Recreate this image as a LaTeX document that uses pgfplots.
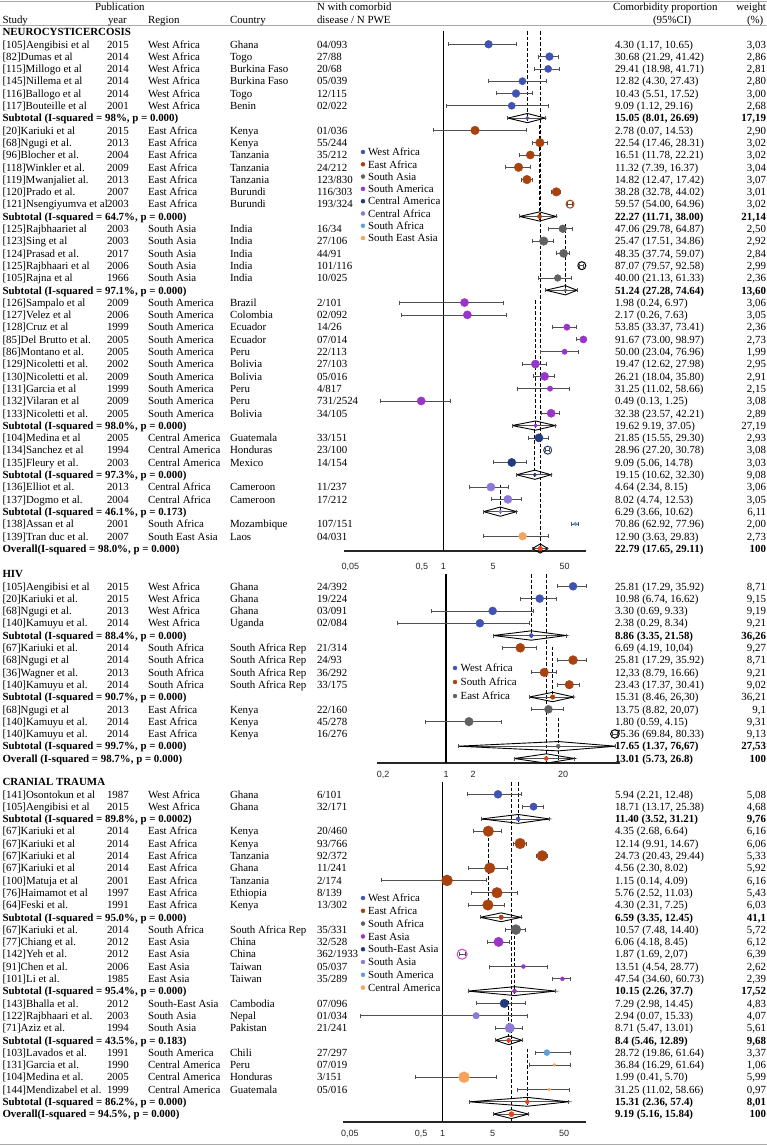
\documentclass[border=0pt]{standalone}
\usepackage{pgfplots}
\pgfplotsset{compat=1.18}
\usepackage{fontspec}
\setmainfont{Liberation Serif}
\newfontfamily\ticksf{Liberation Sans}

\definecolor{cWA}{RGB}{65,82,181}
\definecolor{cEA}{RGB}{168,67,15}
\definecolor{cGR}{RGB}{98,98,98}
\definecolor{cPU}{RGB}{154,53,201}
\definecolor{cNV}{RGB}{35,58,128}
\definecolor{cLV}{RGB}{142,121,216}
\definecolor{cLB}{RGB}{95,160,218}
\definecolor{cOR}{RGB}{246,163,94}
\definecolor{cRD}{RGB}{232,66,27}
\definecolor{cMG}{RGB}{208,67,200}
\definecolor{ciC}{RGB}{80,80,80}
\definecolor{hdr}{RGB}{170,170,170}

\newcommand\PC[3]{\addplot[ciC, line width=0.7pt, mark=|, mark size=2pt, mark options={solid}, forget plot] coordinates {(#2,-#1) (#3,-#1)};}
\newcommand\PD[4]{\addplot[only marks, mark=*, mark size=#3pt, color=#4, forget plot] coordinates {(#2,-#1)};}
% y lo p hi r colour
\newcommand\PR[6]{\PC{#1}{#2}{#4}\PD{#1}{#3}{#5}{#6}}
\newcommand\PO[6]{\PC{#1}{#2}{#4}\addplot[only marks, mark=o, mark size=#5pt, color=#6, line width=1pt, forget plot] coordinates {(#3,-#1)};}
\newcommand\PS[6]{\PC{#1}{#2}{#4}%
  \pgfmathsetmacro\dya{-#1+\dh}\pgfmathsetmacro\dyb{-#1-\dh}%
  \edef\tmpdia{\noexpand\addplot[black, line width=0.9pt, mark=none, forget plot] coordinates {(#2,-#1) (#3,\dya) (#4,-#1) (#3,\dyb) (#2,-#1)};}\tmpdia
  \PD{#1}{#3}{#5}{#6}}
\newcommand\VD[3]{\addplot[black, line width=1.1pt, dash pattern=on 3.5pt off 2pt, mark=none, forget plot] coordinates {(#1,#2) (#1,#3)};}
\newcommand\VO[2]{\addplot[black, line width=1.2pt, mark=none, forget plot] coordinates {(1,#1) (1,#2)};}
\newcommand\LB[3]{\addplot[only marks, mark=*, mark size=2pt, color=#3, forget plot] coordinates {(#1,#2)};}

\newcommand\fs{\fontsize{10.9}{12}\selectfont}
\def\base{32}
\newcommand\TR[8]{\pgfmathsetmacro\rowy{-(\base+12.3*(#1))-3.7}%
 \node[anchor=base west] at (2.5pt,\rowy pt) {#2};%
 \node[anchor=base west] at (107pt,\rowy pt) {#3};%
 \node[anchor=base west] at (148pt,\rowy pt) {#4};%
 \node[anchor=base west] at (230pt,\rowy pt) {#5};%
 \node[anchor=base west] at (317pt,\rowy pt) {#6};%
 \node[anchor=base west] at (615pt,\rowy pt) {#7};%
 \node[anchor=base east] at (766pt,\rowy pt) {#8};}
\newcommand\TB[4]{\TR{#1}{\textbf{#2}}{}{}{}{}{#3}{#4}}
\newcommand\LG[3]{\pgfmathsetmacro\rowy{-(#2)-3.7}\node[anchor=base west] at (#1pt,\rowy pt) {#3};}

\begin{document}
\begin{tikzpicture}[font=\fs]
\useasboundingbox (0pt,0pt) rectangle (767pt,-1146pt);
\begin{scope}[every node/.style={inner sep=0pt, outer sep=0pt}]
\draw[hdr, line width=1pt] (0pt,-1pt) -- (767pt,-1pt);
\draw[hdr, line width=0.8pt] (0pt,-25.5pt) -- (767pt,-25.5pt);
\draw[hdr, line width=1.6pt] (0pt,-1144.5pt) -- (767pt,-1144.5pt);
\node[anchor=base west] at (95pt,-10.6pt) {Publication};
\node[anchor=base west] at (2.5pt,-23.1pt) {Study};
\node[anchor=base west] at (108pt,-23.1pt) {year};
\node[anchor=base west] at (148pt,-23.1pt) {Region};
\node[anchor=base west] at (230pt,-23.1pt) {Country};
\node[anchor=base west] at (317pt,-10.6pt) {N with comorbid};
\node[anchor=base west] at (317pt,-23.1pt) {disease / N PWE};
\node[anchor=base west] at (613pt,-10.6pt) {Comorbidity proportion};
\node[anchor=base west] at (653pt,-23.1pt) {(95\%CI)};
\node[anchor=base east] at (766pt,-10.6pt) {weight};
\node[anchor=base west] at (747pt,-23.1pt) {(\%)};

\def\base{32}
\TR{0}{\textbf{NEUROCYSTICERCOSIS}}{}{}{}{}{}{}
\TR{1}{[105]Aengibisi et al}{2015}{West Africa}{Ghana}{04/093}{4.30 (1.17, 10.65)}{3,03}
\TR{2}{[82]Dumas et al}{2014}{West Africa}{Togo}{27/88}{30.68 (21.29, 41.42)}{2,86}
\TR{3}{[115]Millogo et al}{2014}{West Africa}{Burkina Faso}{20/68}{29.41 (18.98, 41.71)}{2,81}
\TR{4}{[145]Nillema et al}{2014}{West Africa}{Burkina Faso}{05/039}{12.82 (4.30, 27.43)}{2,80}
\TR{5}{[116]Ballogo et al}{2014}{West Africa}{Togo}{12/115}{10.43 (5.51, 17.52)}{3,00}
\TR{6}{[117]Bouteille et al}{2001}{West Africa}{Benin}{02/022}{9.09 (1.12, 29.16)}{2,68}
\TB{7}{Subtotal (I-squared = 98\%, p = 0.000)}{\textbf{15.05 (8.01, 26.69)}}{\textbf{17,19}}
\TR{8}{[20]Kariuki et al}{2015}{East Africa}{Kenya}{01/036}{2.78 (0.07, 14.53)}{2,90}
\TR{9}{[68]Ngugi et al.}{2013}{East Africa}{Kenya}{55/244}{22.54 (17.46, 28.31)}{3,02}
\TR{10}{[96]Blocher et al.}{2004}{East Africa}{Tanzania}{35/212}{16.51 (11.78, 22.21)}{3,02}
\TR{11}{[118]Winkler et al.}{2009}{East Africa}{Tanzania}{24/212}{11.32 (7.39, 16.37)}{3,04}
\TR{12}{[119]Mwanjaliet al.}{2013}{East Africa}{Tanzania}{123/830}{14.82 (12.47, 17.42)}{3,07}
\TR{13}{[120]Prado et al.}{2007}{East Africa}{Burundi}{116/303}{38.28 (32.78, 44.02)}{3,01}
\TR{14}{[121]Nsengiyumva et al}{2003}{East Africa}{Burundi}{193/324}{59.57 (54.00, 64.96)}{3,02}
\TB{15}{Subtotal (I-squared = 64.7\%, p = 0.000)}{\textbf{22.27 (11.71, 38.00)}}{\textbf{21,14}}
\TR{16}{[125]Rajbhaariet al}{2003}{South Asia}{India}{16/34}{47.06 (29.78, 64.87)}{2,50}
\TR{17}{[123]Sing et al}{2003}{South Asia}{India}{27/106}{25.47 (17.51, 34.86)}{2,92}
\TR{18}{[124]Prasad et al.}{2017}{South Asia}{India}{44/91}{48.35 (37.74, 59.07)}{2,84}
\TR{19}{[125]Rajbhaari et al}{2006}{South Asia}{India}{101/116}{87.07 (79.57, 92.58)}{2,99}
\TR{20}{[105]Rajna et al}{1966}{South Asia}{India}{10/025}{40.00 (21.13, 61.33)}{2,36}
\TB{21}{Subtotal (I-squared = 97.1\%, p = 0.000)}{\textbf{51.24 (27.28, 74.64)}}{\textbf{13,60}}
\TR{22}{[126]Sampalo et al}{2009}{South America}{Brazil}{2/101}{1.98 (0.24, 6.97)}{3,06}
\TR{23}{[127]Velez et al}{2006}{South America}{Colombia}{02/092}{2.17 (0.26, 7.63)}{3,05}
\TR{24}{[128]Cruz et al}{1999}{South America}{Ecuador}{14/26}{53.85 (33.37, 73.41)}{2,36}
\TR{25}{[85]Del Brutto et al.}{2005}{South America}{Ecuador}{07/014}{91.67 (73.00, 98.97)}{2,73}
\TR{26}{[86]Montano et al.}{2005}{South America}{Peru}{22/113}{50.00 (23.04, 76.96)}{1,99}
\TR{27}{[129]Nicoletti et al.}{2002}{South America}{Bolivia}{27/103}{19.47 (12.62, 27.98)}{2,95}
\TR{28}{[130]Nicoletti et al.}{2009}{South America}{Bolivia}{05/016}{26.21 (18.04, 35.80)}{2,91}
\TR{29}{[131]Garcia et al}{1999}{South America}{Peru}{4/817}{31.25 (11.02, 58.66)}{2,15}
\TR{30}{[132]Vilaran et al}{2009}{South America}{Peru}{731/2524}{0.49 (0.13, 1.25)}{3,08}
\TR{31}{[133]Nicoletti et al.}{2005}{South America}{Bolivia}{34/105}{32.38 (23.57, 42.21)}{2,89}
\TB{32}{Subtotal (I-squared = 98.0\%, p = 0.000)}{19.62 9.19, 37.05)}{27,19}
\TR{33}{[104]Medina et al}{2005}{Central America}{Guatemala}{33/151}{21.85 (15.55, 29.30)}{2,93}
\TR{34}{[134]Sanchez et al}{1994}{Central America}{Honduras}{23/100}{28.96 (27.20, 30.78)}{3,08}
\TR{35}{[135]Fleury et al.}{2003}{Central America}{Mexico}{14/154}{9.09 (5.06, 14.78)}{3,03}
\TB{36}{Subtotal (I-squared = 97.3\%, p = 0.000)}{19.15 (10.62, 32.30)}{9,08}
\TR{37}{[136]Elliot et al.}{2013}{Central Africa}{Cameroon}{11/237}{4.64 (2.34, 8.15)}{3,06}
\TR{38}{[137]Dogmo et al.}{2004}{Central Africa}{Cameroon}{17/212}{8.02 (4.74, 12.53)}{3,05}
\TB{39}{Subtotal (I-squared = 46.1\%, p = 0.173)}{6.29 (3.66, 10.62)}{6,11}
\TR{40}{[138]Assan et al}{2001}{South Africa}{Mozambique}{107/151}{70.86 (62.92, 77.96)}{2,00}
\TR{41}{[139]Tran duc et al.}{2007}{South East Asia}{Laos}{04/031}{12.90 (3.63, 29.83)}{2,73}
\TB{42}{Overall(I-squared = 98.0\%, p = 0.000)}{\textbf{22.79 (17.65, 29.11)}}{\textbf{100}}

\def\base{574}
\TR{0}{\textbf{HIV}}{}{}{}{}{}{}
\TR{1}{[105]Aengibisi et al}{2015}{West Africa}{Ghana}{24/392}{25.81 (17.29, 35.92)}{8,71}
\TR{2}{[20]Kariuki et al.}{2015}{West Africa}{Ghana}{19/224}{10.98 (6.74, 16.62)}{9,15}
\TR{3}{[68]Ngugi et al.}{2013}{West Africa}{Ghana}{03/091}{3.30 (0.69, 9.33)}{9,19}
\TR{4}{[140]Kamuyu et al.}{2014}{West Africa}{Uganda}{02/084}{2.38 (0.29, 8.34)}{9,21}
\TB{5}{Subtotal (I-squared = 88.4\%, p = 0.000)}{\textbf{8.86 (3.35, 21.58)}}{\textbf{36,26}}
\TR{6}{[67]Kariuki et al.}{2014}{South Africa}{South Africa Rep}{21/314}{6.69 (4.19, 10,04)}{9,27}
\TR{7}{[68]Ngugi et al}{2014}{South Africa}{South Africa Rep}{24/93}{25.81 (17.29, 35.92)}{8,71}
\TR{8}{[36]Wagner et al.}{2013}{South Africa}{South Africa Rep}{36/292}{12,33 (8.79, 16.66)}{9,21}
\TR{9}{[140]Kamuyu et al.}{2014}{South Africa}{South Africa Rep}{33/175}{23.43 (17.37, 30.41)}{9,02}
\TB{10}{Subtotal (I-squared = 90.7\%, p = 0.000)}{15.31 (8.46, 26,30)}{36,21}
\TR{11}{[68]Ngugi et al}{2013}{East Africa}{Kenya}{22/160}{13.75 (8.82, 20,07)}{9,1}
\TR{12}{[140]Kamuyu et al.}{2014}{East Africa}{Kenya}{45/278}{1.80 (0.59, 4.15)}{9,31}
\TR{13}{[140]Kamuyu et al.}{2014}{East Africa}{Kenya}{16/276}{75.36 (69.84, 80.33)}{9,13}
\TB{14}{Subtotal (I-squared = 99.7\%, p = 0.000)}{\textbf{17.65 (1.37, 76,67)}}{\textbf{27,53}}
\TB{15}{Overall (I-squared = 98.7\%, p = 0.000)}{\textbf{13.01 (5.73, 26.8)}}{\textbf{100}}

\def\base{782}
\TR{0}{\textbf{CRANIAL TRAUMA}}{}{}{}{}{}{}
\TR{1}{[141]Osontokun et al}{1987}{West Africa}{Ghana}{6/101}{5.94 (2.21, 12.48)}{5,08}
\TR{2}{[105]Aengibisi et al}{2015}{West Africa}{Ghana}{32/171}{18.71 (13.17, 25.38)}{4,68}
\TB{3}{Subtotal (I-squared = 89.8\%, p = 0.0002)}{\textbf{11.40 (3.52, 31.21)}}{\textbf{9,76}}
\TR{4}{[67]Kariuki et al}{2014}{East Africa}{Kenya}{20/460}{4.35 (2.68, 6.64)}{6,16}
\TR{5}{[67]Kariuki et al}{2014}{East Africa}{Kenya}{93/766}{12.14 (9.91, 14.67)}{6,06}
\TR{6}{[67]Kariuki et al}{2014}{East Africa}{Tanzania}{92/372}{24.73 (20.43, 29.44)}{5,33}
\TR{7}{[67]Kariuki et al}{2014}{East Africa}{Ghana}{11/241}{4.56 (2.30, 8.02)}{5,92}
\TR{8}{[100]Matuja et al}{2001}{East Africa}{Tanzania}{2/174}{1.15 (0.14, 4.09)}{6,16}
\TR{9}{[76]Haimamot et al}{1997}{East Africa}{Ethiopia}{8/139}{5.76 (2.52, 11.03)}{5,43}
\TR{10}{[64]Feski et al.}{1991}{East Africa}{Kenya}{13/302}{4.30 (2.31, 7.25)}{6,03}
\TB{11}{Subtotal (I-squared = 95.0\%, p = 0.000)}{\textbf{6.59 (3.35, 12.45)}}{\textbf{41,1}}
\TR{12}{[67]Kariuki et al.}{2014}{South Africa}{South Africa Rep}{35/331}{10.57 (7.48, 14.40)}{5,72}
\TR{13}{[77]Chiang et al.}{2012}{East Asia}{China}{32/528}{6.06 (4.18, 8.45)}{6,12}
\TR{14}{[142]Yeh et al.}{2012}{East Asia}{China}{362/1933}{1.87 (1.69, 2,07)}{6,39}
\TR{15}{[91]Chen et al.}{2006}{East Asia}{Taiwan}{05/037}{13.51 (4.54, 28.77)}{2,62}
\TR{16}{[101]Li et al.}{1985}{East Asia}{Taiwan}{35/289}{47.54 (34.60, 60.73)}{2,39}
\TB{17}{Subtotal (I-squared = 95.4\%, p = 0.000)}{\textbf{10.15 (2.26, 37.7)}}{\textbf{17,52}}
\TR{18}{[143]Bhalla et al.}{2012}{South-East Asia}{Cambodia}{07/096}{7.29 (2.98, 14.45)}{4,83}
\TR{19}{[122]Rajbhaari et al.}{2003}{South Asia}{Nepal}{01/034}{2.94 (0.07, 15.33)}{4,07}
\TR{20}{[71]Aziz et al.}{1994}{South Asia}{Pakistan}{21/241}{8.71 (5.47, 13.01)}{5,61}
\TB{21}{Subtotal (I-squared = 43.5\%, p = 0.183)}{\textbf{8.4 (5.46, 12.89)}}{\textbf{9,68}}
\TR{22}{[103]Lavados et al.}{1991}{South America}{Chili}{27/297}{28.72 (19.86, 61.64)}{3,37}
\TR{23}{[131]Garcia et al.}{1990}{Central America}{Peru}{07/019}{36.84 (16.29, 61.64)}{1,06}
\TR{24}{[104]Medina et al.}{2005}{Central America}{Honduras}{3/151}{1.99 (0.41, 5.70)}{5,99}
\TR{25}{[144]Mendizabel et al.}{1999}{Central America}{Guatemala}{05/016}{31.25 (11.02, 58.66)}{0,97}
\TB{26}{Subtotal (I-squared = 86.2\%, p = 0.000)}{\textbf{15.31 (2.36, 57.4)}}{\textbf{8,01}}
\TB{27}{Overall(I-squared = 94.5\%, p = 0.000)}{\textbf{9.19 (5.16, 15.84)}}{\textbf{100}}

% legend labels
\LG{368}{152}{West Africa}
\LG{368}{164.3}{East Africa}
\LG{368}{176.6}{South Asia}
\LG{368}{188.9}{South America}
\LG{368}{201.2}{Central America}
\LG{368}{213.5}{Central Africa}
\LG{368}{225.8}{South Africa}
\LG{368}{238.1}{South East Asia}
\LG{460.7}{668}{West Africa}
\LG{460.7}{682}{South Africa}
\LG{460.7}{696}{East Africa}
\LG{368}{898}{West Africa}
\LG{368}{910.8}{East Africa}
\LG{368}{923.6}{South Africa}
\LG{368}{936.4}{East Asia}
\LG{368}{949.2}{South-East Asia}
\LG{368}{962}{South Asia}
\LG{368}{974.8}{South America}
\LG{368}{987.6}{Central America}
\end{scope}

% ===== PANEL 1 =====
\def\dh{0.374}
\begin{axis}[scale only axis, xmode=log, log basis x=10,
  axis y line=none, axis x line*=bottom, ytick=\empty,
  x axis line style={-, line width=1.2pt, black!85},
  major tick length=0pt, minor tick length=0pt, xminorticks=false, clip=false,
  at={(343.5pt,-551pt)}, anchor=south west,
  width=242.61pt, height=520pt, xmin=0.04, xmax=100, ymin=-42.2, ymax=0.08,
  xtick={0.05,0.5,1,5,50}, xticklabels={{0,05},{0,5},1,5,50},
  xticklabel style={font=\ticksf\fontsize{9}{10}\selectfont, text=black!85, inner sep=0pt, yshift=-11.8pt}]
\VO{0.08}{-42.2}
\VD{22.79}{0.08}{-42.2}
\VD{15.05}{0.08}{-7.2}
\VD{22.27}{-7.6}{-15.3}
\VD{51.24}{-15.6}{-21.2}
\VD{19.62}{-21.8}{-32.1}
\VD{19.15}{-32.3}{-36.2}
\VD{6.29}{-36.8}{-39.2}
\PR{1}{1.17}{4.30}{10.65}{3.9}{cWA}
\PR{2}{21.29}{30.68}{41.42}{3.9}{cWA}
\PR{3}{18.98}{29.41}{41.71}{3.6}{cWA}
\PR{4}{4.30}{12.82}{27.43}{3.6}{cWA}
\PR{5}{5.51}{10.43}{17.52}{3.9}{cWA}
\PR{6}{1.12}{9.09}{29.16}{3.6}{cWA}
\PS{7}{8.01}{15.05}{26.69}{1.8}{cWA}
\PR{8}{0.72}{2.78}{14.53}{4.3}{cEA}
\PR{9}{17.46}{22.54}{28.31}{4.3}{cEA}
\PR{10}{11.78}{16.51}{22.21}{4.1}{cEA}
\PR{11}{7.39}{11.32}{16.37}{4.3}{cEA}
\PR{12}{12.47}{14.82}{17.42}{4.3}{cEA}
\PR{13}{32.78}{38.28}{44.02}{4.3}{cEA}
\PO{14}{54.00}{59.57}{64.96}{4.0}{cEA}
\PS{15}{11.71}{22.27}{38.00}{2.1}{cEA}
\PR{16}{29.78}{47.06}{64.87}{3.9}{cGR}
\PR{17}{17.51}{25.47}{34.86}{4.3}{cGR}
\PR{18}{37.74}{48.35}{59.07}{4.1}{cGR}
\PO{19}{79.57}{87.07}{92.58}{4.0}{black}
\PR{20}{21.13}{40.00}{61.33}{3.4}{cGR}
\PS{21}{27.28}{51.24}{74.64}{1.8}{cGR}
\PR{22}{0.24}{1.98}{6.97}{4.1}{cPU}
\PR{23}{0.26}{2.17}{7.63}{4.1}{cPU}
\PR{24}{33.37}{53.85}{73.41}{3.2}{cPU}
\PR{25}{73.00}{91.67}{98.97}{3.6}{cPU}
\PR{26}{23.04}{50.00}{76.96}{2.7}{cPU}
\PR{27}{12.62}{19.47}{27.98}{4.1}{cPU}
\PR{28}{18.04}{26.21}{35.80}{4.1}{cPU}
\PR{29}{11.02}{31.25}{58.66}{2.7}{cPU}
\PR{30}{0.13}{0.49}{1.25}{4.1}{cPU}
\PR{31}{23.57}{32.38}{42.21}{4.1}{cPU}
\PS{32}{9.19}{19.62}{37.05}{1.8}{cPU}
\PR{33}{15.55}{21.85}{29.30}{4.1}{cNV}
\PO{34}{27.20}{28.96}{30.78}{4.0}{cNV}
\PR{35}{5.06}{9.09}{14.78}{4.1}{cNV}
\PS{36}{10.62}{19.15}{32.30}{1.8}{cNV}
\PR{37}{2.34}{4.64}{8.15}{4.1}{cLV}
\PR{38}{4.74}{8.02}{12.53}{4.1}{cLV}
\PS{39}{3.66}{6.29}{10.62}{1.8}{cLV}
\PR{40}{62.92}{70.86}{77.96}{1.9}{cLB}
\PR{41}{3.63}{12.90}{29.83}{3.9}{cOR}
\PS{42}{17.65}{22.79}{29.11}{2.3}{cRD}
\LB{0.075}{-9.756}{cWA}
\LB{0.075}{-10.756}{cEA}
\LB{0.075}{-11.756}{cGR}
\LB{0.075}{-12.756}{cPU}
\LB{0.075}{-13.756}{cNV}
\LB{0.075}{-14.756}{cLV}
\LB{0.075}{-15.756}{cLB}
\LB{0.075}{-16.756}{cOR}
\end{axis}

% ===== PANEL 2 =====
\def\dh{0.38}
\begin{axis}[scale only axis, xmode=log, log basis x=10,
  axis y line=none, axis x line*=bottom, ytick=\empty,
  x axis line style={-, line width=1.2pt, black!85},
  major tick length=0pt, minor tick length=0pt, xminorticks=false, clip=false,
  at={(376.74pt,-763.05pt)}, anchor=south west,
  width=243.36pt, height=189.05pt, xmin=0.17, xmax=86, ymin=-15.37, ymax=0,
  xtick={0.2,1,2,20}, xticklabels={{0,2},1,2,20},
  xticklabel style={font=\ticksf\fontsize{9}{10}\selectfont, text=black!85, inner sep=0pt, yshift=-7.8pt}]
\VO{0}{-15.37}
\VD{13.01}{0}{-15.37}
\VD{8.86}{0}{-5.2}
\VD{15.31}{-5.9}{-10.1}
\VD{17.65}{-11.7}{-15.37}
\PR{1}{17.29}{25.81}{35.92}{4.0}{cWA}
\PR{2}{6.74}{10.98}{16.62}{4.0}{cWA}
\PR{3}{0.69}{3.30}{9.33}{4.0}{cWA}
\PR{4}{0.29}{2.38}{8.34}{4.0}{cWA}
\PS{5}{3.35}{8.86}{21.58}{2.0}{cWA}
\PR{6}{4.19}{6.69}{10.04}{4.5}{cEA}
\PR{7}{17.29}{25.81}{35.92}{4.5}{cEA}
\PR{8}{8.79}{12.33}{16.66}{4.3}{cEA}
\PR{9}{17.37}{23.43}{30.41}{4.3}{cEA}
\PS{10}{8.46}{15.31}{26.30}{2.3}{cEA}
\PR{11}{8.82}{13.75}{20.07}{4.0}{cGR}
\PR{12}{0.59}{1.80}{4.15}{4.3}{cGR}
\PO{13}{69.84}{75.36}{80.33}{4.3}{black}
\PS{14}{1.37}{17.65}{76.67}{2.0}{cGR}
\PS{15}{5.73}{13.01}{26.8}{2.0}{cRD}
\LB{1.259}{-7.642}{cWA}
\LB{1.259}{-8.78}{cEA}
\LB{1.259}{-9.919}{cGR}
\end{axis}

% ===== PANEL 3 =====
\def\dh{0.36}
\begin{axis}[scale only axis, xmode=log, log basis x=10,
  axis y line=none, axis x line*=bottom, ytick=\empty,
  x axis line style={-, line width=1.2pt, black!85},
  major tick length=0pt, minor tick length=0pt, xminorticks=false, clip=false,
  at={(342.89pt,-1121.97pt)}, anchor=south west,
  width=242.61pt, height=339.97pt, xmin=0.04, xmax=100, ymin=-27.64, ymax=0,
  xtick={0.05,0.5,1,5,50}, xticklabels={{0,05},{0,5},1,5,50},
  xticklabel style={font=\ticksf\fontsize{9}{10}\selectfont, text=black!85, inner sep=0pt, yshift=-7.8pt}]
\VO{0}{-27.64}
\VD{9.19}{0}{-27.64}
\VD{11.40}{0}{-3.2}
\VD{4.4}{-4.1}{-10.1}
\VD{10.15}{-11.6}{-17.2}
\VD{8.4}{-17.8}{-21.2}
\VD{15.31}{-21.7}{-26.2}
\PR{1}{2.21}{5.94}{12.48}{4.0}{cWA}
\PR{2}{13.17}{18.71}{25.38}{3.7}{cWA}
\PS{3}{3.52}{11.40}{31.21}{2.0}{cWA}
\PR{4}{2.68}{4.35}{6.64}{5.3}{cEA}
\PR{5}{9.91}{12.14}{14.67}{5.3}{cEA}
\PR{6}{20.43}{24.73}{29.44}{5.3}{cEA}
\PR{7}{2.30}{4.56}{8.02}{5.3}{cEA}
\PR{8}{0.14}{1.15}{4.09}{5.5}{cEA}
\PR{9}{2.52}{5.76}{11.03}{5.3}{cEA}
\PR{10}{2.31}{4.30}{7.25}{5.3}{cEA}
\PS{11}{3.35}{6.59}{12.45}{2.3}{cEA}
\PR{12}{7.48}{10.57}{14.40}{5.0}{cGR}
\PR{13}{4.18}{6.06}{8.45}{4.7}{cPU}
\PO{14}{1.69}{1.87}{2.07}{5.0}{cMG}
\PR{15}{4.54}{13.51}{28.77}{2.0}{cPU}
\PR{16}{34.60}{47.54}{60.73}{2.0}{cPU}
\PS{17}{2.26}{10.15}{37.7}{2.0}{cPU}
\PR{18}{2.98}{7.29}{14.45}{4.3}{cNV}
\PR{19}{0.07}{2.94}{15.33}{3.3}{cLV}
\PR{20}{5.47}{8.71}{13.01}{4.7}{cLV}
\PS{21}{5.46}{8.4}{12.89}{2.0}{cRD}
\PR{22}{19.86}{28.72}{61.64}{3.0}{cLB}
\PR{23}{16.29}{36.84}{61.64}{1.5}{cOR}
\PR{24}{0.41}{1.99}{5.70}{5.5}{cOR}
\PR{25}{11.02}{31.25}{58.66}{1.5}{cOR}
\PS{26}{2.36}{15.31}{57.4}{2.0}{cRD}
\PS{27}{5.16}{9.19}{15.84}{2.5}{cRD}
\LB{0.0765}{-9.431}{cWA}
\LB{0.0765}{-10.472}{cEA}
\LB{0.0765}{-11.512}{cGR}
\LB{0.0765}{-12.553}{cPU}
\LB{0.0765}{-13.594}{cNV}
\LB{0.0765}{-14.634}{cLV}
\LB{0.0765}{-15.675}{cLB}
\LB{0.0765}{-16.715}{cOR}
\end{axis}
\end{tikzpicture}
\end{document}
